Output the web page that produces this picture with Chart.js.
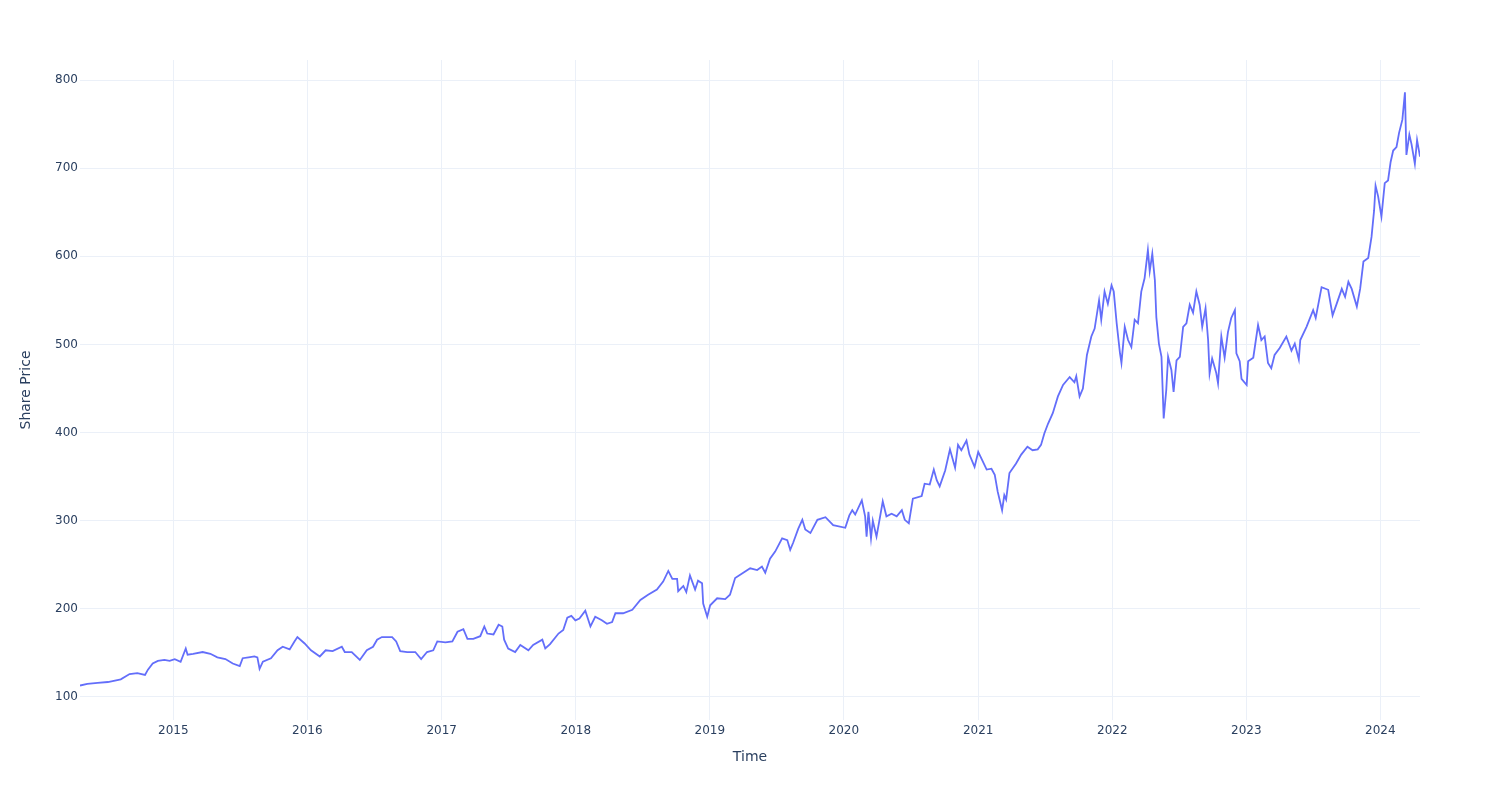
<!DOCTYPE html>
<html>
<head>
<meta charset="utf-8">
<title>Share Price</title>
<script src="https://cdn.jsdelivr.net/npm/chart.js@4.4.1/dist/chart.umd.min.js"></script>
<style>
    html, body { margin: 0; padding: 0; background: #fff; }
    canvas { display: block; }
</style>
</head>
<body>
<canvas id="priceChart" width="1500" height="800"></canvas>
<script>
// values
const dates = [
    '2014-04-22','2014-05-12','2014-06-09','2014-07-07','2014-08-11','2014-09-04','2014-09-25','2014-10-16','2014-10-24','2014-11-06',
    '2014-11-20','2014-12-08','2014-12-22','2015-01-05','2015-01-21','2015-02-04','2015-02-09','2015-02-24','2015-03-22','2015-04-12',
    '2015-05-01','2015-05-23','2015-06-12','2015-07-01','2015-07-09','2015-07-25','2015-08-10','2015-08-18','2015-08-24','2015-09-02',
    '2015-09-24','2015-10-12','2015-10-26','2015-11-14','2015-11-27','2015-12-05','2015-12-24','2016-01-11','2016-02-04','2016-02-20',
    '2016-03-10','2016-04-04','2016-04-12','2016-05-01','2016-05-18','2016-05-23','2016-06-11','2016-06-28','2016-07-09','2016-07-22',
    '2016-08-19','2016-08-30','2016-09-10','2016-09-29','2016-10-21','2016-11-06','2016-11-22','2016-12-09','2016-12-20','2017-01-11',
    '2017-01-30','2017-02-13','2017-03-01','2017-03-12','2017-03-28','2017-04-16','2017-04-27','2017-05-05','2017-05-22','2017-06-05',
    '2017-06-15','2017-06-20','2017-07-01','2017-07-20','2017-08-03','2017-08-25','2017-09-07','2017-10-02','2017-10-10','2017-10-23',
    '2017-11-15','2017-11-28','2017-12-09','2017-12-20','2017-12-31','2018-01-11','2018-01-27','2018-02-10','2018-02-23','2018-03-13',
    '2018-03-27','2018-04-10','2018-04-19','2018-05-10','2018-06-04','2018-06-26','2018-07-17','2018-08-10','2018-08-27','2018-09-10',
    '2018-09-21','2018-10-04','2018-10-07','2018-10-21','2018-10-29','2018-11-08','2018-11-22','2018-11-30','2018-12-11','2018-12-14',
    '2018-12-25','2019-01-02','2019-01-21','2019-02-12','2019-02-25','2019-03-11','2019-03-30','2019-04-21','2019-05-10','2019-05-23',
    '2019-06-01','2019-06-14','2019-06-28','2019-07-17','2019-07-31','2019-08-08','2019-08-16','2019-08-30','2019-09-10','2019-09-18',
    '2019-10-02','2019-10-21','2019-11-12','2019-12-03','2020-01-05','2020-01-16','2020-01-24','2020-02-01','2020-02-19','2020-02-28',
    '2020-03-03','2020-03-08','2020-03-15','2020-03-20','2020-03-30','2020-04-08','2020-04-16','2020-04-26','2020-05-10','2020-05-24',
    '2020-06-07','2020-06-15','2020-06-26','2020-07-07','2020-07-31','2020-08-08','2020-08-22','2020-09-02','2020-09-10','2020-09-18',
    '2020-10-03','2020-10-16','2020-10-30','2020-11-07','2020-11-16','2020-11-30','2020-12-08','2020-12-22','2021-01-01','2021-01-15',
    '2021-01-24','2021-02-06','2021-02-15','2021-02-23','2021-03-07','2021-03-13','2021-03-18','2021-03-27','2021-04-14','2021-04-28',
    '2021-05-15','2021-05-29','2021-06-12','2021-06-21','2021-06-30','2021-07-10','2021-07-23','2021-08-06','2021-08-20','2021-09-07',
    '2021-09-20','2021-09-25','2021-10-04','2021-10-13','2021-10-24','2021-11-05','2021-11-14','2021-11-26','2021-12-02','2021-12-11',
    '2021-12-20','2021-12-30','2022-01-05','2022-01-13','2022-01-22','2022-01-26','2022-02-04','2022-02-13','2022-02-22','2022-03-03',
    '2022-03-12','2022-03-21','2022-03-30','2022-04-08','2022-04-13','2022-04-20','2022-04-27','2022-05-01','2022-05-08','2022-05-15',
    '2022-05-21','2022-05-28','2022-06-02','2022-06-11','2022-06-17','2022-06-25','2022-07-04','2022-07-13','2022-07-22','2022-07-31',
    '2022-08-09','2022-08-18','2022-08-27','2022-09-03','2022-09-12','2022-09-19','2022-09-23','2022-09-30','2022-10-11','2022-10-16',
    '2022-10-25','2022-11-03','2022-11-12','2022-11-21','2022-12-01','2022-12-05','2022-12-14','2022-12-19','2023-01-02','2023-01-06',
    '2023-01-20','2023-02-02','2023-02-11','2023-02-20','2023-03-01','2023-03-10','2023-03-19','2023-04-02','2023-04-20','2023-05-04',
    '2023-05-13','2023-05-24','2023-05-28','2023-06-14','2023-07-02','2023-07-09','2023-07-25','2023-08-12','2023-08-24','2023-09-04',
    '2023-09-18','2023-09-27','2023-10-06','2023-10-15','2023-10-29','2023-11-07','2023-11-16','2023-11-29','2023-12-08','2023-12-15',
    '2023-12-19','2023-12-26','2024-01-04','2024-01-13','2024-01-22','2024-01-29','2024-02-05','2024-02-14','2024-02-21','2024-03-01',
    '2024-03-08','2024-03-12','2024-03-20','2024-03-26','2024-04-04','2024-04-10','2024-04-18'
];
const prices = [
    113, 115, 116, 117, 120, 126, 127, 125, 131, 138,
    141, 142, 141, 143, 140, 155, 148, 149, 151, 149,
    145, 143, 138, 135, 144, 145, 146, 145, 132, 140,
    144, 153, 157, 154, 163, 168, 161, 153, 146, 153,
    152, 157, 151, 151, 144, 142, 153, 157, 165, 168,
    168, 163, 152, 151, 151, 143, 151, 153, 163, 162,
    163, 174, 177, 166, 166, 169, 180, 172, 171, 182,
    180, 165, 155, 151, 159, 153, 159, 165, 155, 160,
    172, 176, 190, 192, 187, 189, 198, 180, 191, 187,
    183, 185, 195, 195, 199, 210, 216, 222, 231, 243,
    234, 234, 220, 226, 219, 238, 222, 232, 229, 206,
    191, 204, 212, 211, 216, 235, 240, 246, 244, 248,
    241, 257, 265, 280, 278, 267, 275, 291, 301, 290,
    286, 301, 304, 295, 292, 306, 312, 307, 323, 305,
    282, 310, 280, 300, 282, 303, 322, 305, 308, 305,
    312, 301, 297, 325, 328, 342, 341, 358, 346, 339,
    357, 381, 360, 386, 380, 391, 375, 361, 378, 366,
    358, 359, 352, 333, 312, 329, 324, 354, 365, 375,
    384, 380, 381, 386, 399, 410, 422, 441, 454, 463,
    457, 464, 441, 450, 488, 509, 518, 550, 528, 560,
    546, 567, 560, 524, 490, 479, 520, 505, 497, 528,
    524, 560, 575, 607, 583, 603, 573, 531, 501, 486,
    416, 448, 486, 471, 446, 482, 486, 520, 524, 545,
    536, 560, 545, 520, 541, 505, 467, 484, 468, 456,
    509, 485, 514, 530, 539, 490, 481, 461, 454, 481,
    485, 522, 505, 509, 479, 473, 488, 496, 509, 493,
    501, 483, 505, 520, 539, 530, 565, 562, 533, 546,
    563, 554, 571, 563, 543, 563, 594, 598, 622, 652,
    680, 668, 645, 683, 686, 707, 720, 724, 740, 755,
    786, 715, 738, 727, 705, 732, 713
];
const yearTicks = ['2015', '2016', '2017', '2018', '2019', '2020', '2021', '2022', '2023', '2024'];
const priceTicks = [100, 200, 300, 400, 500, 600, 700, 800];

const toTime = d => Date.parse(d + 'T00:00:00Z');
const points = dates.map((d, i) => ({ x: toTime(d), y: prices[i] }));

const gridColor = '#ebf0f8';
const textColor = '#2a3f5f';
const fontFamily = '"DejaVu Sans", Verdana, sans-serif';

new Chart(document.getElementById('priceChart'), {
    type: 'line',
    data: {
        datasets: [{
            label: 'Share Price',
            data: points,
            borderColor: '#636efa',
            borderWidth: 1.8,
            pointRadius: 0,
            tension: 0,
            fill: false
        }]
    },
    options: {
        responsive: false,
        animation: false,
        layout: { padding: { top: 60, right: 80, left: 0, bottom: 0 } },
        plugins: {
            legend: { display: false },
            tooltip: { enabled: false }
        },
        scales: {
            x: {
                type: 'linear',
                min: points[0].x,
                max: points[points.length - 1].x,
                afterBuildTicks: scale => {
                    scale.ticks = yearTicks.map(y => ({ value: toTime(y + '-01-01') }));
                },
                afterFit: scale => { scale.height = 80; },
                ticks: {
                    autoSkip: false,
                    maxRotation: 0,
                    padding: 4,
                    color: textColor,
                    font: { family: fontFamily, size: 12 },
                    callback: v => String(new Date(v).getUTCFullYear())
                },
                grid: { color: gridColor, drawTicks: false },
                border: { display: false },
                title: {
                    display: true,
                    text: 'Time',
                    color: textColor,
                    font: { family: fontFamily, size: 14 },
                    padding: { top: 0, bottom: 34 }
                }
            },
            y: {
                type: 'linear',
                min: 73.9,
                max: 822.7,
                afterBuildTicks: scale => {
                    scale.ticks = priceTicks.map(v => ({ value: v }));
                },
                afterFit: scale => { scale.width = 80; },
                ticks: {
                    padding: 2,
                    color: textColor,
                    font: { family: fontFamily, size: 12 }
                },
                grid: { color: gridColor, drawTicks: false },
                border: { display: false },
                title: {
                    display: true,
                    text: 'Share Price',
                    color: textColor,
                    font: { family: fontFamily, size: 14 },
                    padding: { top: 18, bottom: 0 }
                }
            }
        }
    }
});
</script>
</body>
</html>
